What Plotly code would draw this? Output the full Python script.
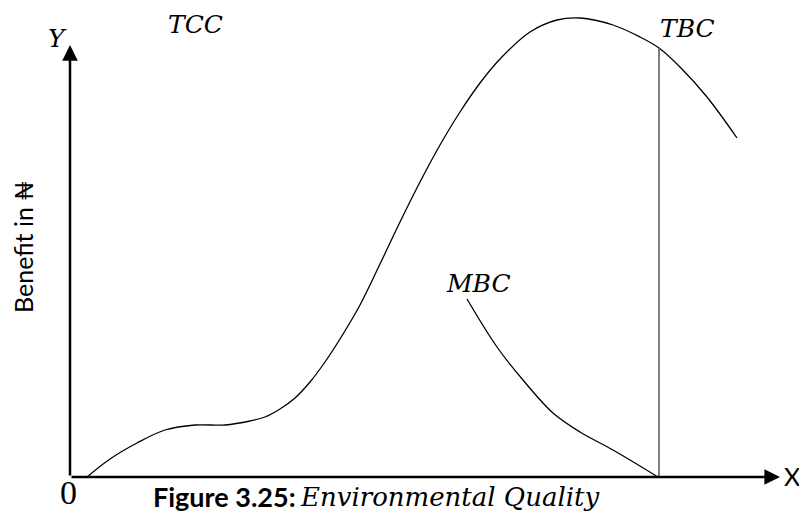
import plotly.graph_objects as go

# Total benefit curve (TBC): environmental quality vs benefit
tbc_x = [1.7, 4.0, 6.7, 9.5, 12.5, 15.5, 18.0, 19.5, 21.0, 22.5, 24.0, 25.5, 27.0, 29.0,
         31.0, 33.0, 35.0, 37.0, 39.0, 41.0, 43.0, 46.0, 48.7, 51.0, 54.3, 57.0, 58.9,
         61.0, 63.7, 66.7]
tbc_y = [0.0, 1.8, 3.4, 4.7, 5.2, 5.2, 5.6, 6.0, 6.8, 7.9, 9.5, 11.5, 13.8, 17.2,
         21.3, 25.5, 29.5, 33.2, 36.5, 39.4, 41.8, 44.5, 45.7, 45.9, 45.2, 44.0, 42.9,
         41.0, 38.0, 33.9]

# Marginal benefit curve (MBC)
mbc_x = [39.7, 42.7, 45.3, 48.3, 51.0, 54.3, 58.8]
mbc_y = [17.8, 13.0, 9.7, 6.4, 4.5, 2.7, 0.0]

# Optimum quality level (vertical drop line)
opt_x = [58.9, 58.9]
opt_y = [0.0, 42.9]

# Axis extents
y_axis_top = 43.2
x_axis_end = 71.0

fig = go.Figure()
fig.add_trace(go.Scatter(x=tbc_x, y=tbc_y, mode="lines",
                         line=dict(color="black", width=1.3, shape="spline", smoothing=1.0),
                         hoverinfo="skip"))
fig.add_trace(go.Scatter(x=mbc_x, y=mbc_y, mode="lines",
                         line=dict(color="black", width=1.3, shape="spline", smoothing=1.0),
                         hoverinfo="skip"))
fig.add_trace(go.Scatter(x=opt_x, y=opt_y, mode="lines",
                         line=dict(color="#555555", width=1.5),
                         hoverinfo="skip"))

serif_it = dict(family="DejaVu Serif", size=25, color="black")
annotations = [
    # axes with arrowheads
    dict(x=0, y=y_axis_top, ax=0, ay=0, xref="x", yref="y", axref="x", ayref="y",
         text="", showarrow=True, arrowhead=2, arrowsize=1.25, arrowwidth=2.5,
         arrowcolor="black"),
    dict(x=x_axis_end, y=0, ax=0, ay=0, xref="x", yref="y", axref="x", ayref="y",
         text="", showarrow=True, arrowhead=2, arrowsize=1.25, arrowwidth=2.5,
         arrowcolor="black"),
    dict(x=-1.3, y=43.9, text="<i>Y</i>", font=serif_it, showarrow=False),
    dict(x=12.5, y=45.3, text="<i>TCC</i>", font=serif_it, showarrow=False),
    dict(x=61.7, y=44.9, text="<i>TBC</i>", font=serif_it, showarrow=False),
    dict(x=40.8, y=19.4, text="<i>MBC</i>", font=serif_it, showarrow=False),
    dict(x=-0.2, y=-1.5, text="0",
         font=dict(family="Liberation Serif", size=34, color="black"), showarrow=False),
    dict(x=72.2, y=0.1, text="X", xanchor="center",
         font=dict(family="Lato", size=25, color="black"), showarrow=False),
    dict(x=-4.7, y=23.0, text="Benefit in ₦", textangle=-90,
         font=dict(family="Lato", size=25, color="black"), showarrow=False),
    dict(x=22.8, y=-1.95, text="<b>Figure 3.25:</b>", xanchor="right",
         font=dict(family="Lato", size=27, color="black"), showarrow=False),
    dict(x=22.8, y=-1.95, text="<i>Environmental Quality</i>", xanchor="left",
         font=dict(family="DejaVu Serif", size=26, color="black"), showarrow=False),
]

fig.update_layout(
    width=799, height=512,
    margin=dict(l=0, r=0, t=0, b=0),
    paper_bgcolor="white", plot_bgcolor="white",
    showlegend=False,
    xaxis=dict(range=[-7.0, 72.9], visible=False, fixedrange=True),
    yaxis=dict(range=[-3.5, 47.7], visible=False, fixedrange=True),
    annotations=annotations,
)

fig.write_html("out.html")
